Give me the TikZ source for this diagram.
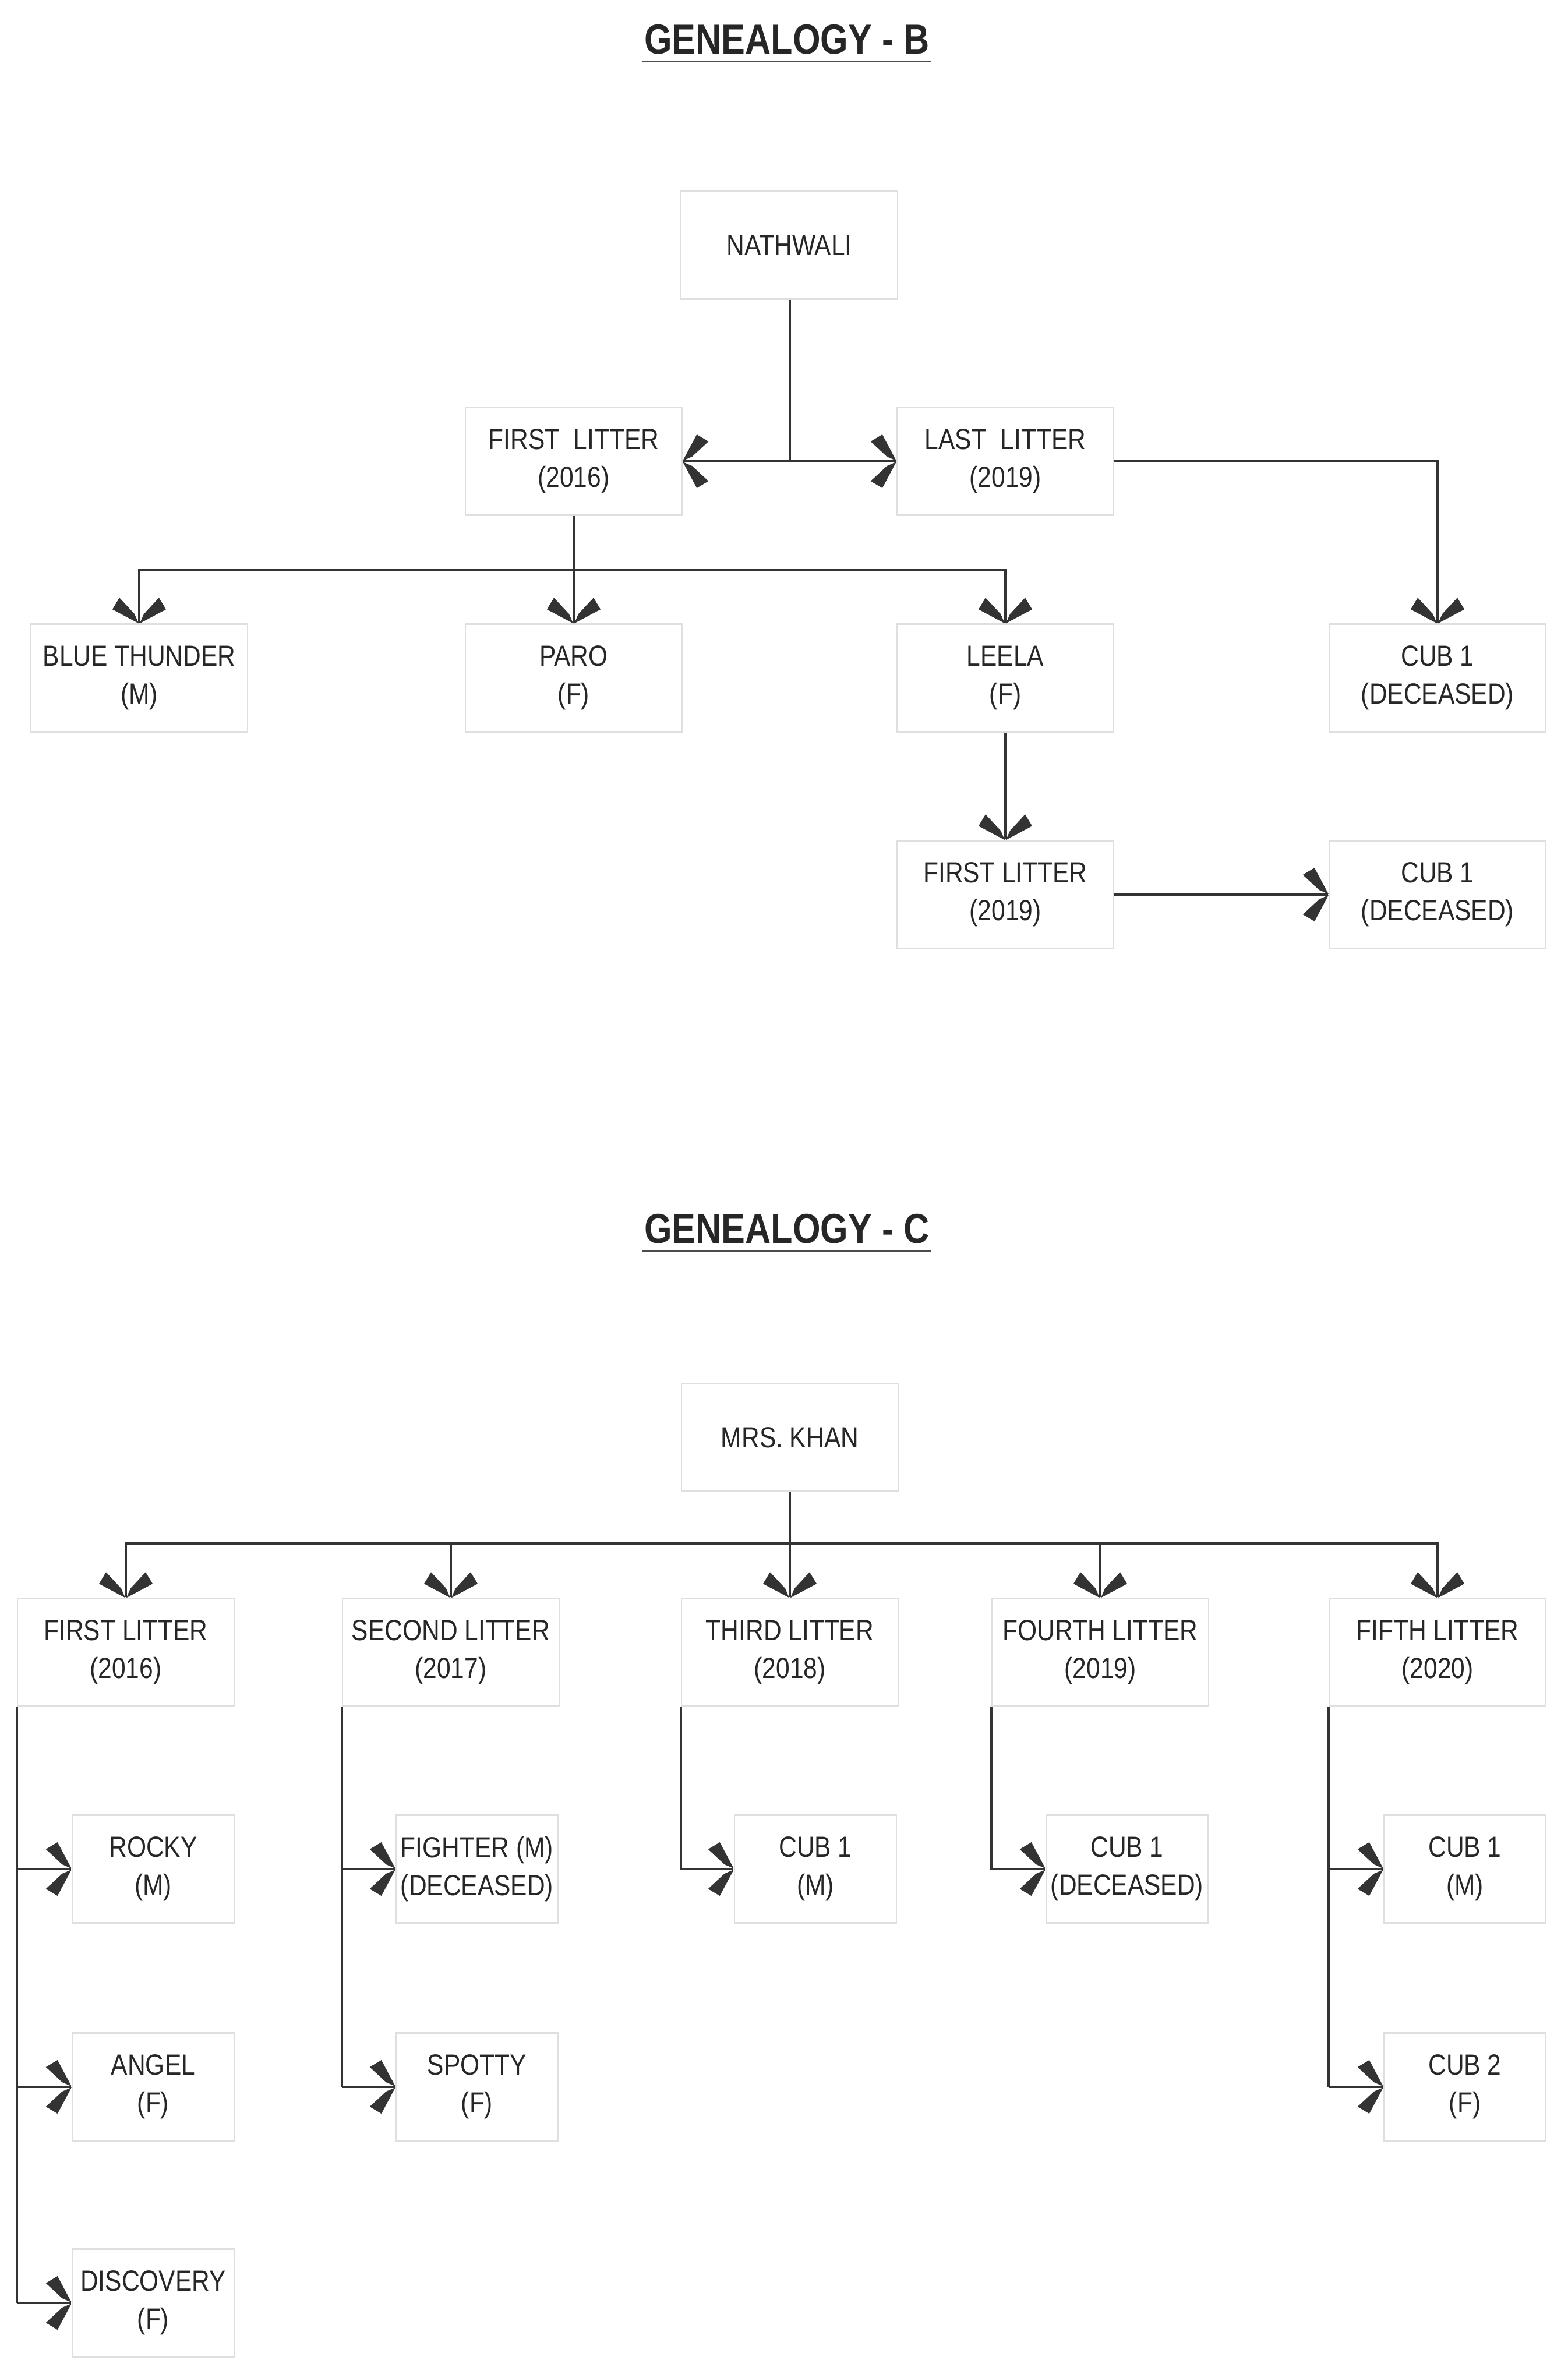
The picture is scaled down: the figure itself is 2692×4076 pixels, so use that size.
\documentclass[tikz,border=0pt]{standalone}
\usepackage{fontspec}
\setmainfont{Liberation Sans}[FakeStretch=0.85]
\pgfdeclarearrow{
 name=Kites,
 setup code={\pgfarrowssettipend{0pt}\pgfarrowssetlineend{-1pt}%
  \pgfarrowssetvisualbackend{-42pt}\pgfarrowssetbackend{-42pt}%
  \pgfarrowshullpoint{0pt}{0pt}\pgfarrowshullpoint{-42pt}{46pt}\pgfarrowshullpoint{-42pt}{-46pt}},
 drawing code={%
  \pgfpathmoveto{\pgfpoint{0pt}{1pt}}\pgfpathlineto{\pgfpoint{-24pt}{46pt}}%
  \pgfpathlineto{\pgfpoint{-44pt}{34pt}}\pgfpathlineto{\pgfpoint{-16pt}{8pt}}\pgfpathclose
  \pgfpathmoveto{\pgfpoint{0pt}{-1pt}}\pgfpathlineto{\pgfpoint{-24pt}{-46pt}}%
  \pgfpathlineto{\pgfpoint{-44pt}{-34pt}}\pgfpathlineto{\pgfpoint{-16pt}{-8pt}}\pgfpathclose
  \pgfusepathqfill}
}
\begin{document}
\begin{tikzpicture}[x=1pt,y=-1pt,
 box/.style={draw=gray!25,line width=2.5pt,minimum width=372pt,minimum height=185pt,align=center,
   font=\fontsize{50}{65}\selectfont,text=black!85,inner sep=0pt},
 sbox/.style={box,minimum width=278pt},
 ttl/.style={font=\fontsize{72}{80}\selectfont\bfseries,text=black!85},
 ln/.style={line width=3.5pt,draw=black!80},
 ar/.style={ln,-Kites}]
\useasboundingbox[fill=white] (0,0) rectangle (2692,4076);
% Genealogy B
\node[ttl] (tb) at (1351,68) {GENEALOGY - B};
\draw[line width=3pt,black!70] ([yshift=-8pt]tb.south west) -- ([yshift=-8pt]tb.south east);
\node[box] (nath) at (1355,421) {NATHWALI};
\node[box] (fl) at (985,792) {FIRST\ \ LITTER\\(2016)};
\node[box] (ll) at (1726,792) {LAST\ \ LITTER\\(2019)};
\node[box] (bt) at (239,1164) {BLUE THUNDER\\(M)};
\node[box] (paro) at (985,1164) {PARO\\(F)};
\node[box] (leela) at (1726,1164) {LEELA\\(F)};
\node[box] (cubA) at (2468,1164) {CUB 1\\(DECEASED)};
\node[box] (fl19) at (1726,1536) {FIRST LITTER\\(2019)};
\node[box] (cubB) at (2468,1536) {CUB 1\\(DECEASED)};
\coordinate (jb) at (1356,792);
\draw[ln] (nath.south -| jb) -- (jb);
\draw[ar] (jb) -- (fl.east);
\draw[ar] (jb) -- (ll.west);
\coordinate (bar) at (985,979);
\draw[ar] (fl.south) -- (paro.north);
\draw[ar] (bar) -| (bt.north);
\draw[ar] (bar) -| (leela.north);
\draw[ar] (ll.east) -| (cubA.north);
\draw[ar] (leela.south) -- (fl19.north);
\draw[ar] (fl19.east) -- (cubB.west);
% Genealogy C
\node[ttl] (tc) at (1351,2110) {GENEALOGY - C};
\draw[line width=3pt,black!70] ([yshift=-8pt]tc.south west) -- ([yshift=-8pt]tc.south east);
\node[box] (mk) at (1356,2468) {MRS. KHAN};
\node[box] (l1) at (216,2837) {FIRST LITTER\\(2016)};
\node[box] (l2) at (774,2837) {SECOND LITTER\\(2017)};
\node[box] (l3) at (1356,2837) {THIRD LITTER\\(2018)};
\node[box] (l4) at (1889,2837) {FOURTH LITTER\\(2019)};
\node[box] (l5) at (2468,2837) {FIFTH LITTER\\(2020)};
\coordinate (cb) at (1356,2650);
\draw[ln] (mk.south) -- (cb);
\draw[ar] (cb) -- (l3.north);
\foreach \n in {l1,l2,l4,l5} \draw[ar] (cb) -| (\n.north);
\node[sbox] (rocky) at (263,3209) {ROCKY\\(M)};
\node[sbox] (angel) at (263,3583) {ANGEL\\(F)};
\node[sbox] (disc) at (263,3954) {DISCOVERY\\(F)};
\node[sbox] (fight) at (819,3209) {FIGHTER (M)\\(DECEASED)};
\node[sbox] (spot) at (819,3583) {SPOTTY\\(F)};
\node[sbox] (c3) at (1400,3209) {CUB 1\\(M)};
\node[sbox] (c4) at (1935,3209) {CUB 1\\(DECEASED)};
\node[sbox] (c51) at (2515,3209) {CUB 1\\(M)};
\node[sbox] (c52) at (2515,3583) {CUB 2\\(F)};
\draw[ln] (l1.south west) -- (l1.south west |- disc.west);
\foreach \n in {rocky,angel,disc} \draw[ar] (l1.south west |- \n.west) -- (\n.west);
\draw[ln] (l2.south west) -- (l2.south west |- spot.west);
\foreach \n in {fight,spot} \draw[ar] (l2.south west |- \n.west) -- (\n.west);
\draw[ar] (l3.south west) |- (c3.west);
\draw[ar] (l4.south west) |- (c4.west);
\draw[ln] (l5.south west) -- (l5.south west |- c52.west);
\foreach \n in {c51,c52} \draw[ar] (l5.south west |- \n.west) -- (\n.west);
\end{tikzpicture}
\end{document}
